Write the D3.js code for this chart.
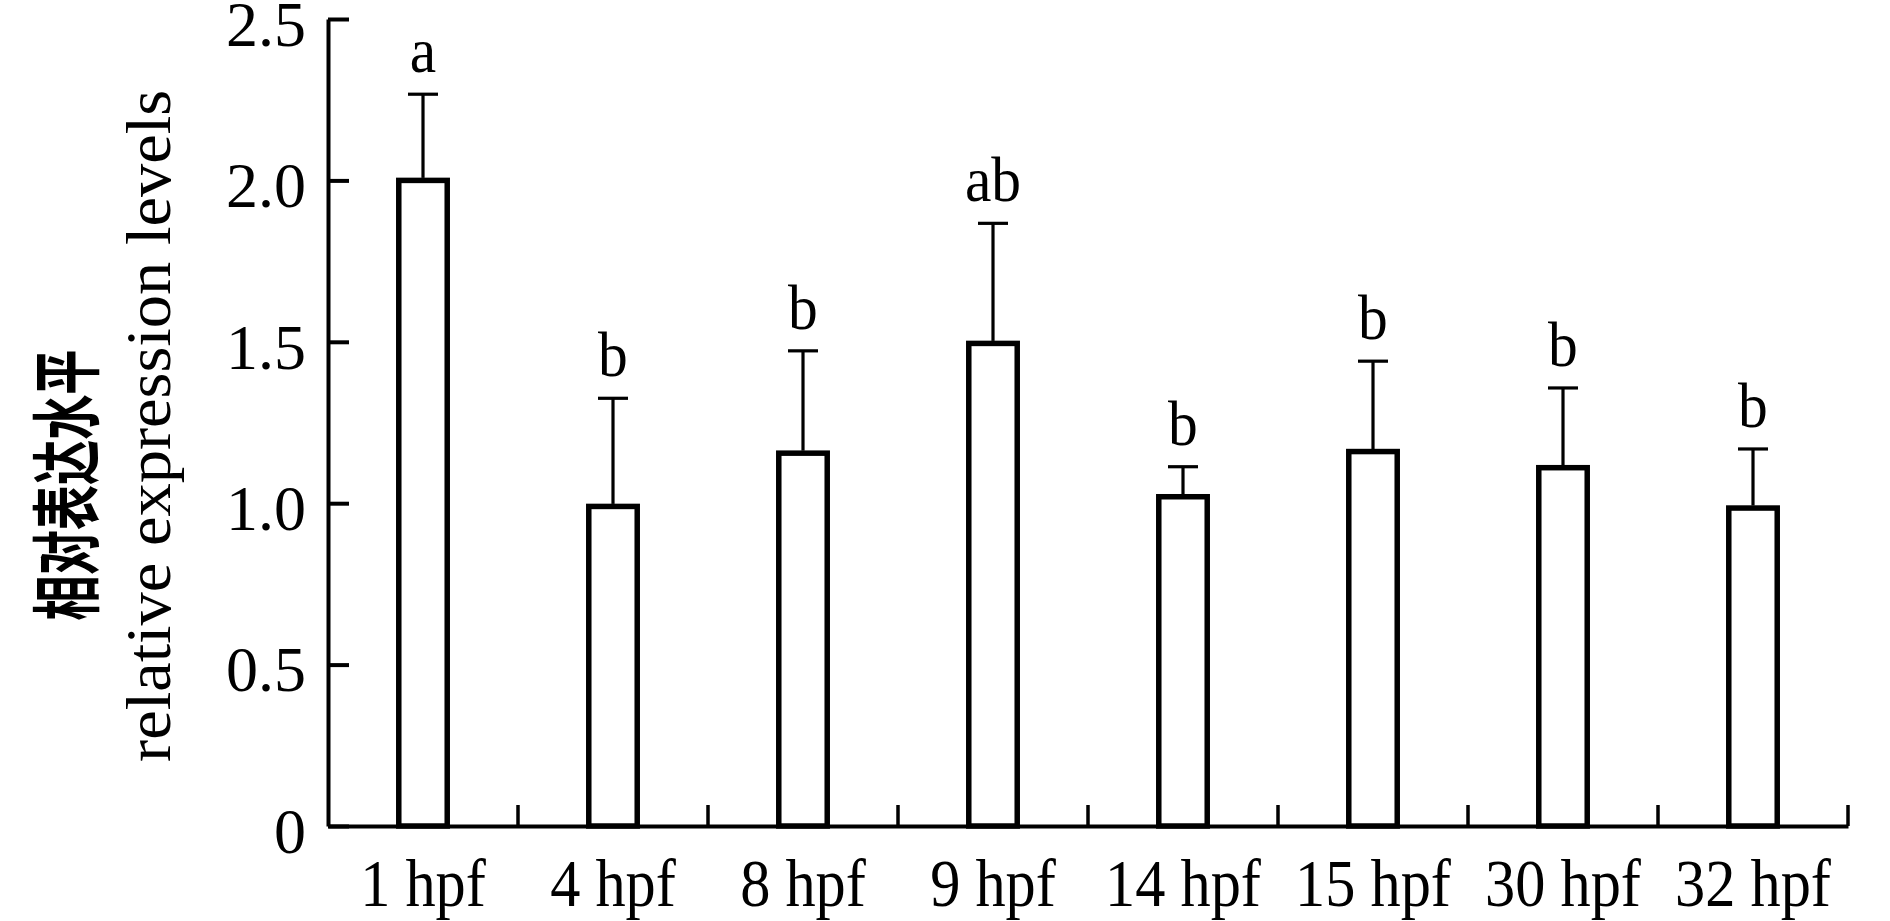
<!DOCTYPE html>
<html>
<head>
<meta charset="utf-8">
<script src="https://cdn.jsdelivr.net/npm/d3@7"></script>
<style>
  body { margin: 0; background: #fff; }
  svg { display: block; }
</style>
</head>
<body>
<div class="wrapper"></div>
<script>
const w = 1890
const h = 921
const plotLeft = 328
const plotRight = 1848
const plotTop = 19
const plotBottom = 826

// data
const stages = ["1 hpf", "4 hpf", "8 hpf", "9 hpf", "14 hpf", "15 hpf", "30 hpf", "32 hpf"]
const means = [2.0, 0.99, 1.155, 1.495, 1.02, 1.16, 1.11, 0.985]
const errors = [0.267, 0.335, 0.317, 0.372, 0.093, 0.28, 0.247, 0.183]
const letters = ["a", "b", "b", "ab", "b", "b", "b", "b"]
const yTicks = [0, 0.5, 1.0, 1.5, 2.0, 2.5]

const serif = "'Liberation Serif', 'Times New Roman', serif"

const xScale = d3.scaleBand().domain(stages).range([plotLeft, plotRight]).padding(0)
const yScale = d3.scaleLinear().domain([0, 2.5]).range([plotBottom, plotTop])
const barW = xScale.bandwidth() * 0.255
const capW = 30

const svg = d3.select(".wrapper")
  .append("svg")
  .attr("width", w)
  .attr("height", h)

svg.append("rect").attr("width", w).attr("height", h).attr("fill", "white")

// bars
svg.selectAll("rect.bar")
  .data(means)
  .enter()
  .append("rect")
  .attr("class", "bar")
  .attr("x", (d, i) => xScale(stages[i]) + xScale.bandwidth() / 2 - barW / 2)
  .attr("y", (d) => yScale(d))
  .attr("width", barW)
  .attr("height", (d) => plotBottom - yScale(d))
  .attr("fill", "white")
  .attr("stroke", "black")
  .attr("stroke-width", 5.5)

// error bars (upper only)
const cx = (i) => xScale(stages[i]) + xScale.bandwidth() / 2
const errG = svg.append("g").attr("stroke", "black").attr("stroke-width", 3.2)
means.forEach((m, i) => {
  errG.append("line")
    .attr("x1", cx(i)).attr("x2", cx(i))
    .attr("y1", yScale(m) - 2.5).attr("y2", yScale(m + errors[i]))
  errG.append("line")
    .attr("x1", cx(i) - capW / 2).attr("x2", cx(i) + capW / 2)
    .attr("y1", yScale(m + errors[i])).attr("y2", yScale(m + errors[i]))
})

// significance letters
svg.selectAll("text.letter")
  .data(letters)
  .enter()
  .append("text")
  .attr("class", "letter")
  .attr("x", (d, i) => cx(i))
  .attr("y", (d, i) => yScale(means[i] + errors[i]) - 22)
  .attr("text-anchor", "middle")
  .attr("font-family", serif)
  .attr("font-size", 64)
  .text((d) => d)
  .each(function () {
    const len = this.getComputedTextLength()
    d3.select(this).attr("textLength", len * 0.93).attr("lengthAdjust", "spacingAndGlyphs")
  })

// y axis
const yAxis = d3.axisLeft(yScale)
  .tickValues(yTicks)
  .tickFormat((d) => d === 0 ? "0" : d.toFixed(1))
  .tickSizeInner(-21)
  .tickSizeOuter(0)
  .tickPadding(22)

const gy = svg.append("g")
  .attr("transform", "translate(" + plotLeft + ", 0)")
  .call(yAxis)
gy.select(".domain").attr("stroke", "black").attr("stroke-width", 4)
gy.selectAll(".tick line").attr("stroke", "black").attr("stroke-width", 4)
gy.selectAll(".tick text")
  .attr("font-family", serif)
  .attr("font-size", 64)
  .attr("fill", "black")
  .attr("dy", "0.41em")

// x axis
const xAxis = d3.axisBottom(xScale).tickSize(0).tickPadding(34)
const gx = svg.append("g")
  .attr("transform", "translate(0, " + plotBottom + ")")
  .call(xAxis)
gx.select(".domain").attr("stroke", "black").attr("stroke-width", 4)
gx.selectAll(".tick text")
  .attr("font-family", serif)
  .attr("font-size", 67)
  .attr("fill", "black")
  .attr("dy", "0.68em")
  .each(function () {
    const len = this.getComputedTextLength()
    d3.select(this).attr("textLength", len * 0.9).attr("lengthAdjust", "spacingAndGlyphs")
  })

// boundary ticks between categories
const bounds = stages.slice(1).map((s) => xScale(s)).concat([xScale.range()[1]])
svg.selectAll("line.sep")
  .data(bounds)
  .enter()
  .append("line")
  .attr("class", "sep")
  .attr("x1", (d) => d).attr("x2", (d) => d)
  .attr("y1", plotBottom).attr("y2", plotBottom - 21)
  .attr("stroke", "black")
  .attr("stroke-width", 3.5)

// y axis titles
svg.append("text")
  .attr("transform", "translate(93, 485) rotate(-90)")
  .attr("text-anchor", "middle")
  .attr("font-family", "'Noto Sans CJK SC', sans-serif")
  .attr("font-weight", 700)
  .attr("font-size", 70)
  .attr("textLength", 271)
  .attr("lengthAdjust", "spacingAndGlyphs")
  .text("相对表达水平")

svg.append("text")
  .attr("transform", "translate(170, 426) rotate(-90)")
  .attr("text-anchor", "middle")
  .attr("font-family", serif)
  .attr("font-size", 64)
  .attr("textLength", 672)
  .attr("lengthAdjust", "spacingAndGlyphs")
  .text("relative expression levels")
</script>
</body>
</html>
